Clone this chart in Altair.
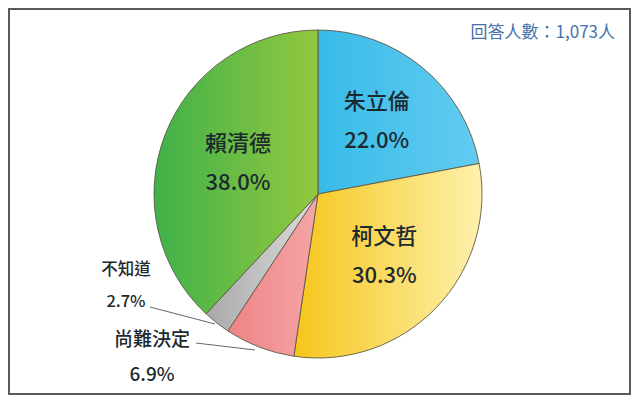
import math
import altair as alt
import pandas as pd

# ---- data ----
names = ["朱立倫", "柯文哲", "尚難決定", "不知道", "賴清德"]
values = [22.0, 30.3, 6.9, 2.7, 38.0]
header_text = "回答人數：1,073人"

# ---- styles ----
fill_left = ["#38bbe8", "#f7c51a", "#ee8386", "#a9a9a9", "#3fb14a"]
fill_right = ["#62cbf1", "#fdf1ad", "#f5a5a6", "#dcdcdc", "#93c83f"]
FONT = "Noto Sans CJK TC"
TXT = "#1c2a30"

df = pd.DataFrame({
    "name": names,
    "value": values,
    "idx": list(range(len(names))),
    "label": [f"{n}\n{v:.1f}%" for n, v in zip(names, values)],
})
total = sum(values)
theta_scale = alt.Scale(domain=[0, total], range=[0, 2 * math.pi])

# view origin is at page (9, 9)
CX, CY, R = 309, 185, 164

base = alt.Chart(df).transform_window(
    cum="sum(value)", sort=[alt.SortField("idx")], frame=[None, 0]
).transform_calculate(
    start="datum.cum - datum.value",
    mid="datum.cum - datum.value / 2",
)

layers = []
for i in range(len(names)):
    grad = alt.LinearGradient(
        gradient="linear",
        stops=[alt.GradientStop(color=fill_left[i], offset=0),
               alt.GradientStop(color=fill_right[i], offset=1)],
        x1=0, x2=1, y1=0, y2=0,
    )
    layers.append(
        base.transform_filter(f"datum.idx == {i}").mark_arc(
            color=grad, stroke="#5e5a45", strokeWidth=0.9
        ).encode(
            theta=alt.Theta("start:Q", scale=theta_scale, stack=None),
            theta2="cum:Q",
            x=alt.value(CX), y=alt.value(CY), radius=alt.value(R),
        )
    )


def inner_label(cond, rad, dy):
    return base.transform_filter(cond).mark_text(
        font=FONT, fontSize=22, fontWeight=500, color=TXT, lineBreak="\n",
        lineHeight=39, align="center", baseline="middle", dy=dy,
    ).encode(
        theta=alt.Theta("mid:Q", scale=theta_scale, stack=None),
        x=alt.value(CX), y=alt.value(CY), radius=alt.value(rad),
        text="label:N",
    )


inner_a = inner_label("datum.idx == 0 || datum.idx == 1", 92, -21)
inner_b = inner_label("datum.idx == 4", 86, -18)

outer1 = base.transform_filter("datum.idx == 3").mark_text(
    font=FONT, fontSize=16.5, fontWeight=500, color=TXT, lineBreak="\n", lineHeight=32,
    align="center", baseline="middle",
).encode(x=alt.value(117), y=alt.value(261), text="label:N")

outer2 = base.transform_filter("datum.idx == 2").mark_text(
    font=FONT, fontSize=19, fontWeight=500, color=TXT, lineBreak="\n", lineHeight=35,
    align="center", baseline="middle",
).encode(x=alt.value(143), y=alt.value(331), text="label:N")

lead1 = base.transform_filter("datum.idx == 3").mark_rule(
    color="#555555", strokeWidth=0.9
).encode(x=alt.value(141), y=alt.value(298), x2=alt.value(206), y2=alt.value(315))

lead2 = base.transform_filter("datum.idx == 2").mark_rule(
    color="#555555", strokeWidth=0.9
).encode(x=alt.value(187), y=alt.value(334), x2=alt.value(246), y2=alt.value(341))

header = base.transform_filter("datum.idx == 0").mark_text(
    font=FONT, fontSize=17, color="#4570ad", align="right", baseline="middle",
).encode(x=alt.value(606), y=alt.value(24), text=alt.value(header_text))

chart = alt.layer(*layers, inner_a, inner_b, outer1, outer2, lead1, lead2, header).properties(
    width=621, height=385,
    padding={"left": 1, "top": 1, "right": 2, "bottom": 2},
).configure_view(stroke="#5a5a5a", strokeWidth=2)

chart.save("out.html", embed_options={"renderer": "svg", "actions": False})
